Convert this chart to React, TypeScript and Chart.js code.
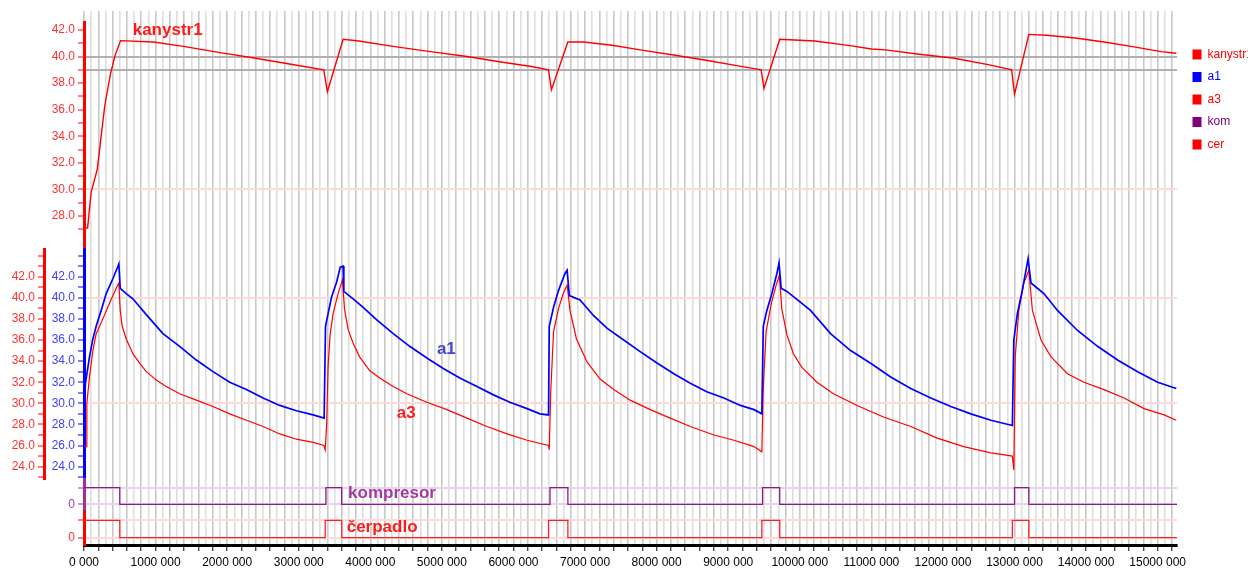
import React, { useEffect, useRef } from 'react';
import { Chart, registerables } from 'chart.js';

Chart.register(...registerables);

const FONT = "'Liberation Sans', Arial, Helvetica, sans-serif";
Chart.defaults.font.family = FONT;
Chart.defaults.font.size = 12;

// time axis in millions (tick label 1 -> "1000 000")
const X_MAX = 15.27;

// kanystr1 (top panel)
const kanystrX = [0, 0.05, 0.10, 0.185, 0.29, 0.37, 0.43, 0.51, 0.97, 1.41, 1.90, 2.40, 2.89, 3.35, 3.40, 3.62, 3.84, 4.34, 4.84, 5.35, 5.85, 6.25, 6.49, 6.53, 6.76, 6.98, 7.38, 7.77, 8.26, 8.75, 9.14, 9.46, 9.50, 9.72, 10.21, 10.70, 11.00, 11.20, 11.67, 12.16, 12.65, 12.96, 13.00, 13.20, 13.45, 13.85, 14.25, 14.65, 15.05, 15.26];
const kanystrY = [27.1, 27.1, 29.8, 31.5, 36.3, 38.7, 40.0, 41.2, 41.1, 40.75, 40.3, 39.87, 39.42, 39.0, 37.35, 41.3, 41.17, 40.75, 40.37, 40.0, 39.57, 39.25, 39.0, 37.5, 41.1, 41.1, 40.85, 40.5, 40.1, 39.67, 39.3, 39.0, 37.6, 41.3, 41.17, 40.82, 40.57, 40.5, 40.17, 39.87, 39.37, 39.0, 37.16, 41.67, 41.6, 41.4, 41.1, 40.75, 40.37, 40.25];

// a1 (middle panel, blue)
const a1X = [0, 0.02, 0.077, 0.124, 0.17, 0.24, 0.31, 0.403, 0.487, 0.506, 0.59, 0.683, 0.87, 1.103, 1.336, 1.569, 1.802, 2.036, 2.269, 2.502, 2.735, 2.968, 3.201, 3.355, 3.374, 3.41, 3.46, 3.53, 3.58, 3.62, 3.63, 3.76, 3.90, 4.09, 4.32, 4.55, 4.79, 5.02, 5.25, 5.49, 5.72, 5.95, 6.19, 6.37, 6.49, 6.50, 6.56, 6.63, 6.72, 6.75, 6.78, 6.93, 7.12, 7.31, 7.54, 7.77, 8.01, 8.24, 8.47, 8.70, 8.94, 9.17, 9.36, 9.47, 9.49, 9.54, 9.61, 9.68, 9.71, 9.74, 9.82, 10.15, 10.43, 10.71, 10.99, 11.27, 11.55, 11.83, 12.11, 12.39, 12.67, 12.97, 12.99, 13.04, 13.10, 13.16, 13.19, 13.23, 13.32, 13.41, 13.60, 13.88, 14.16, 14.44, 14.72, 15.00, 15.26];
const a1Y = [28.4, 31.9, 34.4, 36.1, 37.3, 38.8, 40.4, 41.8, 43.2, 40.9, 40.4, 39.9, 38.4, 36.6, 35.4, 34.1, 33.0, 32.0, 31.3, 30.5, 29.8, 29.3, 28.9, 28.6, 37.3, 38.5, 40.1, 41.5, 42.9, 43.0, 40.6, 39.9, 39.1, 37.9, 36.6, 35.4, 34.3, 33.3, 32.4, 31.6, 30.8, 30.1, 29.5, 29.0, 28.9, 37.3, 39.1, 40.7, 42.3, 42.6, 40.2, 39.8, 38.3, 37.1, 36.0, 34.9, 33.8, 32.8, 31.9, 31.1, 30.5, 29.8, 29.4, 29.0, 37.3, 38.8, 40.4, 42.3, 43.3, 40.9, 40.6, 38.8, 36.6, 35.0, 33.8, 32.5, 31.4, 30.5, 29.7, 29.0, 28.4, 27.9, 36.0, 38.5, 40.4, 42.6, 43.7, 41.4, 40.9, 40.4, 38.8, 36.9, 35.4, 34.1, 33.0, 32.0, 31.4];

// a3 (middle panel, red)
const a3X = [0, 0.03, 0.04, 0.077, 0.124, 0.17, 0.263, 0.357, 0.45, 0.487, 0.506, 0.534, 0.59, 0.683, 0.776, 0.87, 1.01, 1.149, 1.336, 1.569, 1.802, 2.036, 2.269, 2.502, 2.735, 2.968, 3.201, 3.35, 3.37, 3.39, 3.41, 3.44, 3.48, 3.55, 3.61, 3.64, 3.69, 3.76, 3.85, 3.99, 4.13, 4.32, 4.51, 4.79, 5.07, 5.35, 5.63, 5.91, 6.19, 6.49, 6.50, 6.52, 6.56, 6.63, 6.70, 6.75, 6.79, 6.88, 7.03, 7.21, 7.40, 7.63, 7.91, 8.19, 8.47, 8.80, 9.08, 9.36, 9.47, 9.49, 9.53, 9.60, 9.67, 9.715, 9.75, 9.82, 9.91, 10.03, 10.24, 10.47, 10.80, 11.17, 11.55, 11.92, 12.29, 12.67, 12.97, 12.99, 13.01, 13.06, 13.13, 13.20, 13.25, 13.37, 13.51, 13.74, 13.97, 14.25, 14.53, 14.81, 15.09, 15.26];
const a3Y = [26.0, 25.9, 30.0, 32.5, 35.0, 36.6, 38.0, 39.5, 40.9, 41.4, 38.8, 37.3, 36.1, 34.7, 33.8, 33.0, 32.2, 31.6, 30.9, 30.3, 29.7, 29.0, 28.4, 27.8, 27.1, 26.6, 26.3, 26.0, 25.6, 28.0, 33.5, 36.6, 38.5, 40.4, 41.7, 38.9, 37.0, 35.7, 34.4, 33.1, 32.4, 31.6, 30.9, 30.1, 29.4, 28.6, 27.8, 27.1, 26.5, 26.0, 25.6, 31.0, 36.8, 39.0, 40.5, 41.2, 38.8, 36.1, 33.9, 32.3, 31.3, 30.3, 29.4, 28.6, 27.8, 27.0, 26.5, 25.9, 25.4, 31.5, 36.8, 39.4, 41.2, 42.1, 38.9, 36.5, 34.7, 33.4, 32.0, 30.9, 29.8, 28.7, 27.8, 26.7, 25.9, 25.3, 25.0, 23.7, 34.4, 38.8, 41.4, 42.6, 38.8, 36.0, 34.4, 32.8, 32.0, 31.3, 30.5, 29.5, 28.9, 28.4];

// kompresor / čerpadlo on-off states (value held until next change)
const komX = [0, 0.50, 3.38, 3.60, 6.51, 6.76, 9.48, 9.72, 13.00, 13.20, 15.27];
const komY = [1, 0, 1, 0, 1, 0, 1, 0, 1, 0, 0];
const cerX = [0, 0.50, 3.37, 3.60, 6.49, 6.76, 9.47, 9.72, 12.97, 13.20, 15.27];
const cerY = [1, 0, 1, 0, 1, 0, 1, 0, 1, 0, 0];

const seriesNames = ['kanystr1', 'a1', 'a3', 'kom', 'cer'];
const seriesColors = ['#ff0000', '#0000ff', '#ff0000', '#800080', '#ff0000'];

const annotationTexts = ['kanystr1', 'a1', 'a3', 'kompresor', 'čerpadlo'];
const annotationX = [0.68, 4.93, 4.37, 3.69, 3.67];
const annotationY = [41.62, 34.68, 28.59, 0.36, 0.35];
const annotationAxes = ['yK', 'yA1', 'yA3', 'yKom', 'yCer'];
const annotationColors = ['#ff1a1a', '#4545d5', '#ff2020', '#a03ca0', '#ff1a1a'];

const HIDDEN = 'rgba(0,0,0,0)';
const isInt = (v: number) => Math.abs(v - Math.round(v)) < 1e-6;
const zip = (xs: number[], ys: number[]) => xs.map((x, i) => ({ x, y: ys[i] }));

const W = { pad: 11, top: 227, mid: 230, kom: 32, cer: 34 };

function dummyAxis(stack: string, weight: number, stackWeight: number, width: number, position = 'left') {
  return {
    type: 'linear',
    position,
    stack,
    stackWeight,
    weight,
    min: 0,
    max: 1,
    display: true,
    grid: { display: false, drawTicks: false },
    border: { display: false },
    ticks: { display: false },
    afterFit: (s: any) => { s.width = width; },
  };
}

function valueAxis(o: any) {
  return {
    type: 'linear',
    position: 'left',
    stack: o.stack,
    stackWeight: o.stackWeight,
    weight: o.weight,
    min: o.min,
    max: o.max,
    afterFit: (s: any) => { s.width = o.width; },
    border: { display: true, color: o.axisColor, width: 3 },
    grid: {
      drawOnChartArea: o.gridFn ? true : false,
      color: (c: any) => (o.gridFn ? o.gridFn(c.tick.value) : HIDDEN),
      lineWidth: 2,
      tickColor: (c: any) => (o.tickFn(c.tick.value) ? o.axisColor : HIDDEN),
      tickWidth: 1,
      tickLength: 6,
    },
    ticks: {
      stepSize: 1,
      autoSkip: false,
      includeBounds: false,
      padding: 3,
      color: o.labelColor,
      font: { size: 12, family: FONT },
      callback: (v: any) => o.labelFn(Number(v)),
    },
  };
}

const annotationPlugin = {
  id: 'seriesAnnotations',
  afterDatasetsDraw(chart: any) {
    const ctx = chart.ctx;
    ctx.save();
    ctx.font = `bold 17px ${FONT}`;
    ctx.textAlign = 'left';
    ctx.textBaseline = 'alphabetic';
    annotationTexts.forEach((t, i) => {
      const px = chart.scales.x.getPixelForValue(annotationX[i]);
      const py = chart.scales[annotationAxes[i]].getPixelForValue(annotationY[i]);
      ctx.fillStyle = annotationColors[i];
      ctx.fillText(t, px, py);
    });
    ctx.restore();
  },
};

export default function App() {
  const ref = useRef<HTMLCanvasElement | null>(null);

  useEffect(() => {
    if (!ref.current) return;
    const evenLabel = (min: number, max: number) => (v: number) =>
      isInt(v) && Math.round(v) % 2 === 0 && v >= min && v <= max ? v.toFixed(1) : '';

    const chart = new Chart(ref.current, {
      type: 'line',
      data: {
        datasets: [
          { label: seriesNames[0], data: zip(kanystrX, kanystrY), yAxisID: 'yK', borderColor: seriesColors[0], borderWidth: 1.4 },
          { label: seriesNames[1], data: zip(a1X, a1Y), yAxisID: 'yA1', borderColor: seriesColors[1], borderWidth: 1.7 },
          { label: seriesNames[2], data: zip(a3X, a3Y), yAxisID: 'yA3', borderColor: seriesColors[2], borderWidth: 1.2 },
          { label: seriesNames[3], data: zip(komX, komY), yAxisID: 'yKom', borderColor: '#8a1a8a', borderWidth: 1.3, stepped: true },
          { label: seriesNames[4], data: zip(cerX, cerY), yAxisID: 'yCer', borderColor: '#ff2020', borderWidth: 1.3, stepped: true },
        ].map((d: any) => ({ ...d, pointRadius: 0, tension: 0, fill: false, backgroundColor: d.borderColor })),
      },
      options: {
        animation: false,
        responsive: false,
        events: [],
        layout: { padding: { top: 11, left: 0, right: 0, bottom: 0 } },
        plugins: {
          tooltip: { enabled: false },
          legend: {
            display: true,
            position: 'right',
            align: 'start',
            maxWidth: 66,
            title: { display: true, text: ' ', padding: { top: 17, bottom: 0 }, font: { size: 10, lineHeight: 1 } },
            labels: {
              boxWidth: 9,
              boxHeight: 10,
              padding: 10.5,
              font: { size: 12, family: FONT },
              generateLabels: () =>
                seriesNames.map((n, i) => ({
                  text: n,
                  fillStyle: seriesColors[i],
                  strokeStyle: seriesColors[i],
                  lineWidth: 0,
                  fontColor: seriesColors[i],
                  hidden: false,
                  datasetIndex: i,
                })),
            },
          },
        },
        scales: {
          x: {
            type: 'linear',
            position: 'bottom',
            min: 0,
            max: X_MAX,
            afterFit: (s: any) => { s.height = 23; },
            border: { display: true, color: '#000', width: 3 },
            grid: {
              color: (c: any) => (Math.round(c.tick.value * 10) % 2 === 0 ? '#c8c8c8' : '#dedede'),
              lineWidth: 1.6,
              tickColor: (c: any) => (Math.round(c.tick.value * 10) % 2 === 0 ? '#000' : HIDDEN),
              tickLength: 6,
              tickWidth: 1,
            },
            ticks: {
              stepSize: 0.1,
              autoSkip: false,
              includeBounds: false,
              maxRotation: 0,
              minRotation: 0,
              padding: 4,
              color: '#000',
              font: { size: 12, family: FONT },
              callback: (v: any) => (isInt(Number(v)) ? `${Math.round(Number(v)) * 1000} 000` : ''),
            },
          },
          // outer stack (a3 axis column)
          yPad2: dummyAxis('L2', 24, W.pad, 44),
          yTop2: dummyAxis('L2', 23, W.top, 44),
          yA3: valueAxis({
            stack: 'L2', stackWeight: W.mid, weight: 22, min: 22.83, max: 44.62, width: 44,
            axisColor: '#ff0000', labelColor: '#ff3333',
            tickFn: (v: number) => isInt(v),
            labelFn: evenLabel(24, 42),
          }),
          yKom2: dummyAxis('L2', 21, W.kom, 44),
          yCer2: dummyAxis('L2', 20, W.cer, 44),
          // inner stack
          yPad: dummyAxis('L1', 14, W.pad, 40),
          yK: valueAxis({
            stack: 'L1', stackWeight: W.top, weight: 13, min: 25.52, max: 42.6, width: 40,
            axisColor: '#ff0000', labelColor: '#ff3333',
            tickFn: (v: number) => isInt(v) && v >= 27,
            labelFn: evenLabel(28, 42),
            gridFn: (v: number) => (v === 40 || v === 39 ? '#b0b0b0' : v === 30 ? '#ffd8d8' : HIDDEN),
          }),
          yA1: valueAxis({
            stack: 'L1', stackWeight: W.mid, weight: 12, min: 22.83, max: 44.62, width: 40,
            axisColor: '#0000ff', labelColor: '#4040ff',
            tickFn: (v: number) => isInt(v),
            labelFn: evenLabel(24, 42),
            gridFn: (v: number) => (v === 40 || v === 30 ? '#ffd8d8' : HIDDEN),
          }),
          yKom: valueAxis({
            stack: 'L1', stackWeight: W.kom, weight: 11, min: -0.404, max: 1.524, width: 40,
            axisColor: '#a0309c', labelColor: '#a040a0',
            tickFn: (v: number) => v === 0 || v === 1,
            labelFn: (v: number) => (v === 0 ? '0' : ''),
            gridFn: (v: number) => (v === 0 || v === 1 ? '#ecd0ec' : HIDDEN),
          }),
          yCer: valueAxis({
            stack: 'L1', stackWeight: W.cer, weight: 10, min: -0.422, max: 1.543, width: 40,
            axisColor: '#ff0000', labelColor: '#ff3333',
            tickFn: (v: number) => v === 0 || v === 1,
            labelFn: (v: number) => (v === 0 ? '0' : ''),
            gridFn: (v: number) => (v === 0 || v === 1 ? '#ffd8d8' : HIDDEN),
          }),
          // small spacer on the right of the plot area
          yRight: dummyAxis('', 0, 1, 5, 'right'),
        },
      } as any,
      plugins: [annotationPlugin],
    } as any);

    return () => chart.destroy();
  }, []);

  return (
    <div style={{ position: 'fixed', left: 0, top: 0, width: 1248, height: 568, overflow: 'hidden', background: '#fff' }}>
      <canvas ref={ref} width={1248} height={568} style={{ display: 'block', width: 1248, height: 568 }} />
    </div>
  );
}
